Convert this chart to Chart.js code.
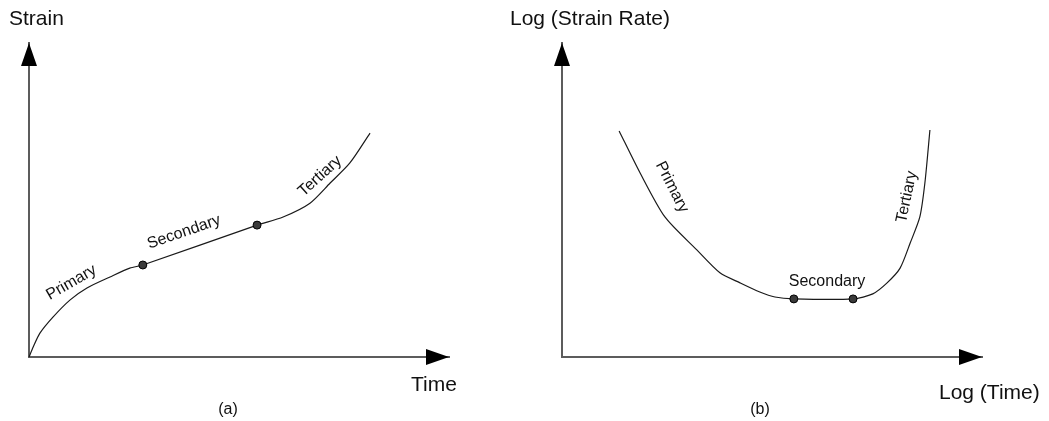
<!DOCTYPE html>
<html>
<head>
<meta charset="utf-8">
<script src="https://cdn.jsdelivr.net/npm/chart.js@4.4.1/dist/chart.umd.min.js"></script>
<style>
  html, body { margin: 0; padding: 0; background: #fff; }
  #wrap { position: relative; width: 1049px; height: 421px; overflow: hidden; }
  canvas { position: absolute; top: 0; }
  #c1 { left: 0; }
  #c2 { left: 480px; }
</style>
</head>
<body>
<div id="wrap">
  <canvas id="c1" width="480" height="421"></canvas>
  <canvas id="c2" width="569" height="421"></canvas>
</div>
<script>
// (a) Creep curve: strain against time (arbitrary units)
const creepTime   = [0, 0.10, 0.26, 0.57, 0.98, 1.38, 1.93, 2.40, 2.71, 5.43, 6.05, 6.69, 7.17, 7.64, 8.12];
const creepStrain = [0, 0.32, 0.76, 1.27, 1.82, 2.20, 2.55, 2.83, 2.93, 4.20, 4.46, 4.90, 5.54, 6.18, 7.13];
// boundaries primary/secondary and secondary/tertiary
const creepStageTime   = [2.71, 5.43];
const creepStageStrain = [2.93, 4.20];

// (b) Strain rate against time, both on log scales (arbitrary units)
const rateLogTime = [1.36, 1.86, 2.45, 3.21, 3.76, 4.24, 4.71, 5.07, 5.52, 6.93, 7.40, 7.74, 8.05, 8.29, 8.52, 8.64, 8.76];
const rateLogRate = [7.20, 5.86, 4.46, 3.41, 2.68, 2.36, 2.07, 1.91, 1.85, 1.85, 2.01, 2.36, 2.83, 3.63, 4.46, 5.54, 7.23];
const rateStageLogTime = [5.52, 6.93];
const rateStageLogRate = [1.85, 1.85];

const stageNames = ['Primary', 'Secondary', 'Tertiary'];

const FONT = "'Liberation Sans', Arial, Helvetica, sans-serif";
const INK = '#111';

const toPoints = (xs, ys) => xs.map((x, i) => ({ x, y: ys[i] }));

// Arrow heads on both axes, axis titles, panel caption and stage names
const sketchPlugin = {
  id: 'sketch',
  afterDraw(chart, args, opts) {
    const { ctx, chartArea: a, scales: { x, y } } = chart;
    ctx.save();
    ctx.fillStyle = '#000';
    const L = 23, W = 8;
    ctx.beginPath();
    ctx.moveTo(a.left, a.top);
    ctx.lineTo(a.left - W, a.top + L);
    ctx.lineTo(a.left + W, a.top + L);
    ctx.closePath();
    ctx.fill();
    ctx.beginPath();
    ctx.moveTo(a.right, a.bottom);
    ctx.lineTo(a.right - L, a.bottom - W);
    ctx.lineTo(a.right - L, a.bottom + W);
    ctx.closePath();
    ctx.fill();

    ctx.fillStyle = INK;
    ctx.textBaseline = 'alphabetic';
    ctx.font = `21px ${FONT}`;
    ctx.textAlign = 'left';
    ctx.fillText(opts.yTitle.text, opts.yTitle.px, opts.yTitle.py);
    ctx.fillText(opts.xTitle.text, opts.xTitle.px, opts.xTitle.py);

    ctx.font = `16px ${FONT}`;
    ctx.textAlign = 'center';
    ctx.textBaseline = 'middle';
    ctx.fillText(opts.caption.text, opts.caption.px, opts.caption.py);

    for (const s of opts.stages) {
      ctx.save();
      ctx.translate(x.getPixelForValue(s.x), y.getPixelForValue(s.y));
      ctx.rotate(s.angle * Math.PI / 180);
      ctx.fillText(s.text, 0, 0);
      ctx.restore();
    }
    ctx.restore();
  }
};

function axis(max) {
  return {
    type: 'linear', min: 0, max,
    ticks: { display: false },
    grid: { display: false, drawTicks: false },
    border: { display: true, color: '#5c5c5c', width: 2 }
  };
}

function makeChart(id, curveX, curveY, dotX, dotY, padding, sketch) {
  return new Chart(document.getElementById(id), {
    type: 'scatter',
    data: {
      datasets: [
        {
          type: 'line',
          data: toPoints(curveX, curveY),
          borderColor: '#1a1a1a',
          borderWidth: 1.2,
          pointRadius: 0,
          tension: 0.25,
          fill: false,
          clip: false,
          order: 2
        },
        {
          data: toPoints(dotX, dotY),
          pointRadius: 4,
          backgroundColor: '#3a3a3a',
          borderColor: '#000',
          borderWidth: 1,
          clip: false,
          order: 1
        }
      ]
    },
    options: {
      responsive: false,
      animation: false,
      devicePixelRatio: 1,
      layout: { padding },
      scales: { x: axis(10), y: axis(10) },
      plugins: {
        legend: { display: false },
        tooltip: { enabled: false },
        sketch
      }
    },
    plugins: [sketchPlugin]
  });
}

makeChart('c1', creepTime, creepStrain, creepStageTime, creepStageStrain,
  { left: 29, top: 43, right: 31, bottom: 64 },
  {
    yTitle: { text: 'Strain', px: 9, py: 25 },
    xTitle: { text: 'Time', px: 411, py: 391 },
    caption: { text: '(a)', px: 228, py: 410 },
    stages: [
      { text: stageNames[0], x: 1.01, y: 2.37, angle: -30 },
      { text: stageNames[1], x: 3.69, y: 3.98, angle: -19 },
      { text: stageNames[2], x: 6.93, y: 5.76, angle: -42 }
    ]
  });

makeChart('c2', rateLogTime, rateLogRate, rateStageLogTime, rateStageLogRate,
  { left: 82, top: 43, right: 67, bottom: 64 },
  {
    yTitle: { text: 'Log (Strain Rate)', px: 30, py: 25 },
    xTitle: { text: 'Log (Time)', px: 459, py: 399 },
    caption: { text: '(b)', px: 280, py: 410 },
    stages: [
      { text: stageNames[0], x: 2.62, y: 5.41, angle: 63 },
      { text: stageNames[1], x: 6.31, y: 2.39, angle: 0 },
      { text: stageNames[2], x: 8.21, y: 5.10, angle: -78 }
    ]
  });
</script>
</body>
</html>
